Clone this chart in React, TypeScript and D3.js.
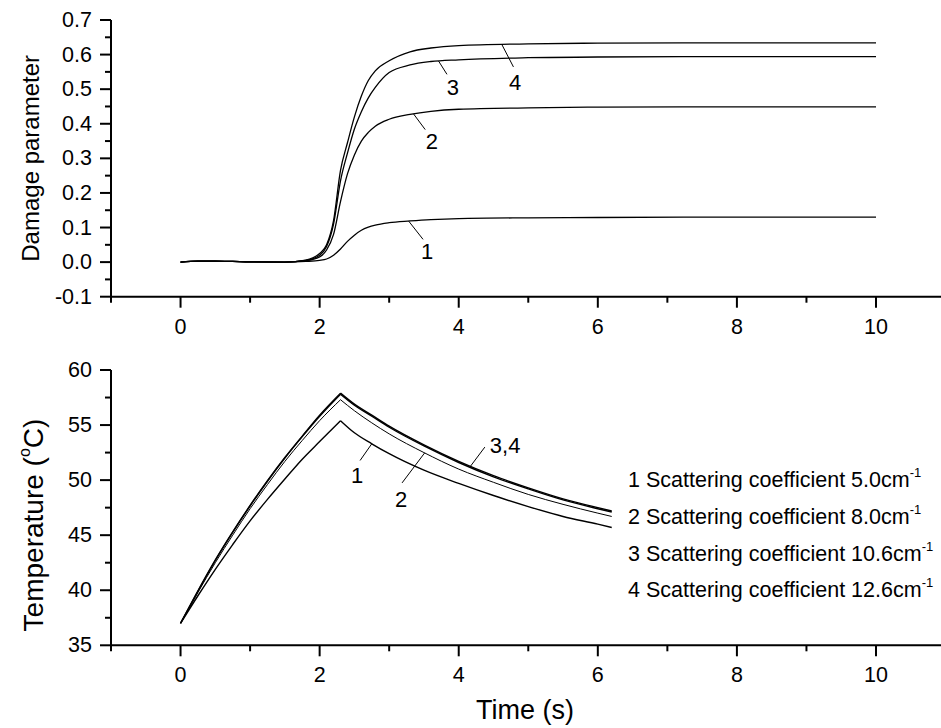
import React from "react";
import * as d3 from "d3";

// ---------- data ----------
const timeTop = [0, 0.25, 0.5, 0.75, 1.0, 1.5, 1.8, 2.0, 2.1, 2.2, 2.3, 2.4, 2.5, 2.6, 2.7, 2.8, 3.0, 3.3, 3.6, 4.0, 5.0, 6.0, 8.0, 10.0];
const damage1 = [0, 0.003, 0.003, 0.002, 0.0005, 0.0, 0.002, 0.005, 0.009, 0.02, 0.038, 0.06, 0.078, 0.092, 0.101, 0.107, 0.114, 0.119, 0.123, 0.126, 0.128, 0.129, 0.13, 0.13];
const damage2 = [0, 0.003, 0.003, 0.002, 0.0005, 0.0, 0.004, 0.015, 0.035, 0.08, 0.175, 0.255, 0.31, 0.35, 0.375, 0.393, 0.413, 0.427, 0.436, 0.442, 0.446, 0.448, 0.449, 0.449];
const damage3 = [0, 0.003, 0.003, 0.002, 0.0005, 0.0, 0.005, 0.02, 0.045, 0.11, 0.235, 0.315, 0.385, 0.435, 0.475, 0.505, 0.548, 0.57, 0.58, 0.585, 0.591, 0.593, 0.594, 0.594];
const damage4 = [0, 0.003, 0.003, 0.002, 0.0005, 0.0, 0.006, 0.025, 0.05, 0.12, 0.265, 0.345, 0.42, 0.48, 0.525, 0.553, 0.582, 0.608, 0.619, 0.626, 0.631, 0.633, 0.634, 0.634];

const timeBottom = [0, 0.25, 0.5, 0.75, 1.0, 1.25, 1.5, 1.75, 2.0, 2.3, 2.5, 2.75, 3.0, 3.5, 4.0, 4.5, 5.0, 5.5, 6.0, 6.2];
const temp1 = [37.0, 39.5, 41.9, 44.15, 46.3, 48.25, 50.1, 51.9, 53.5, 55.4, 54.3, 53.3, 52.4, 50.9, 49.7, 48.6, 47.6, 46.7, 46.0, 45.7];
const temp2 = [37.0, 39.8, 42.5, 45.0, 47.4, 49.6, 51.7, 53.6, 55.4, 57.3, 56.3, 55.2, 54.2, 52.5, 51.0, 49.8, 48.7, 47.8, 47.0, 46.7];
const temp3 = [37.0, 39.9, 42.7, 45.25, 47.65, 49.9, 52.0, 53.95, 55.8, 57.8, 56.8, 55.8, 54.8, 53.1, 51.6, 50.3, 49.2, 48.2, 47.4, 47.1];
const temp4 = [37.0, 39.95, 42.75, 45.3, 47.7, 49.95, 52.05, 54.0, 55.9, 57.9, 56.9, 55.9, 54.9, 53.2, 51.7, 50.4, 49.3, 48.3, 47.5, 47.2];
const heatingEnd = 2.3;

const xTicksMajor = [0, 2, 4, 6, 8, 10];
const xTicksMinor = [-1, 1, 3, 5, 7, 9];
const damageTicks = [-0.1, 0.0, 0.1, 0.2, 0.3, 0.4, 0.5, 0.6, 0.7];
const damageMinor = [-0.05, 0.05, 0.15, 0.25, 0.35, 0.45, 0.55, 0.65];
const tempTicks = [35, 40, 45, 50, 55, 60];
const tempMinor = [37.5, 42.5, 47.5, 52.5, 57.5];

const legendNumbers = ["1", "2", "3", "4"];
const legendValues = ["5.0", "8.0", "10.6", "12.6"];

// curve annotations: label, series index, time of anchor on curve
const topLabels = [
  { label: "4", series: 3, t: 4.62 },
  { label: "3", series: 2, t: 3.71 },
  { label: "2", series: 1, t: 3.35 },
  { label: "1", series: 0, t: 3.28 },
];
const bottomLabels = [
  { label: "1", series: 0, t: 2.75 },
  { label: "2", series: 1, t: 3.51 },
  { label: "3,4", series: 2, t: 4.16 },
];

const FONT = "'Liberation Sans', Arial, Helvetica, sans-serif";

function interp(ts: number[], vs: number[], t: number) {
  const i = Math.max(1, d3.bisectLeft(ts, t));
  const t0 = ts[i - 1], t1 = ts[i];
  const f = (t - t0) / (t1 - t0);
  return vs[i - 1] + f * (vs[i] - vs[i - 1]);
}

export default function App() {
  const W = 941, H = 728;
  const x = d3.scaleLinear().domain([-1, 10]).range([111, 876]);
  const yTop = d3.scaleLinear().domain([-0.1, 0.7]).range([296.7, 20]);
  const yBot = d3.scaleLinear().domain([35, 60]).range([645.3, 370]);
  const axisRight = 941;

  const topSeries = [damage1, damage2, damage3, damage4];
  const botSeries = [temp1, temp2, temp3, temp4];

  const lineTop = d3.line<number>().x((_, i) => x(timeTop[i])).y((d) => yTop(d)).curve(d3.curveMonotoneX);
  const lineBotPts = d3.line<[number, number]>().x((d) => x(d[0])).y((d) => yBot(d[1])).curve(d3.curveMonotoneX);
  const botPath = (s: number[]) => {
    const pts = timeBottom.map((t, i) => [t, s[i]] as [number, number]);
    const rise = pts.filter((p) => p[0] <= heatingEnd);
    const fall = pts.filter((p) => p[0] >= heatingEnd);
    return (lineBotPts(rise) || "") + (lineBotPts(fall) || "");
  };

  const topLabelOffsets = [
    { dx: 11.6, dy: 22.4, tx: 13.3, ty: 37.7 },
    { dx: 8.4, dy: 13.3, tx: 14.4, ty: 26.6 },
    { dx: 11.7, dy: 15.7, tx: 18.4, ty: 27.4 },
    { dx: 14.4, dy: 18.3, tx: 18.4, ty: 30 },
  ];
  const botLabelOffsets = [
    { dx: -11.7, dy: 16.7, tx: -14.7, ty: 31.7, anchor: "middle" },
    { dx: -22.6, dy: 30, tx: -23.6, ty: 47, anchor: "middle" },
    { dx: 15, dy: -20, tx: 20, ty: -21.5, anchor: "start" },
  ];

  const renderXAxis = (y0: number) => (
    <g>
      <line x1={x(-1)} x2={axisRight} y1={y0} y2={y0} stroke="#000" strokeWidth={2} />
      {xTicksMajor.map((t) => (
        <g key={"M" + t}>
          <line x1={x(t)} x2={x(t)} y1={y0} y2={y0 + 11} stroke="#000" strokeWidth={2} />
          <text x={x(t)} y={y0 + 30} textAnchor="middle" dominantBaseline="central" fontSize={21.5}>
            {t}
          </text>
        </g>
      ))}
      {xTicksMinor.map((t) => (
        <line key={"m" + t} x1={x(t)} x2={x(t)} y1={y0} y2={y0 + 6} stroke="#000" strokeWidth={2} />
      ))}
    </g>
  );

  return (
    <svg width={W} height={H} style={{ position: "absolute", left: 0, top: 0, background: "#fff" }} fontFamily={FONT}>
      <rect width={W} height={H} fill="#fff" />
      {/* ---------- top panel ---------- */}
      <g>
        <line x1={x(-1)} x2={x(-1)} y1={yTop(0.7)} y2={yTop(-0.1)} stroke="#000" strokeWidth={2} />
        {damageTicks.map((v) => (
          <g key={"dt" + v}>
            <line x1={x(-1) - 11} x2={x(-1)} y1={yTop(v)} y2={yTop(v)} stroke="#000" strokeWidth={2} />
            <text x={x(-1) - 19} y={yTop(v)} textAnchor="end" dominantBaseline="central" fontSize={21.5}>
              {v.toFixed(1)}
            </text>
          </g>
        ))}
        {damageMinor.map((v) => (
          <line key={"dm" + v} x1={x(-1) - 6} x2={x(-1)} y1={yTop(v)} y2={yTop(v)} stroke="#000" strokeWidth={2} />
        ))}
        {renderXAxis(yTop(-0.1))}
        <text transform={`translate(30,${(yTop(0.7) + yTop(-0.1)) / 2}) rotate(-90)`} textAnchor="middle" dominantBaseline="central" fontSize={24}>
          Damage parameter
        </text>
        {topSeries.map((s, i) => (
          <path key={"tp" + i} d={lineTop(s) || ""} fill="none" stroke="#000" strokeWidth={1.3} />
        ))}
        {topLabels.map((a, i) => {
          const px = x(a.t);
          const py = yTop(interp(timeTop, topSeries[a.series], a.t));
          const o = topLabelOffsets[i];
          return (
            <g key={"tl" + i}>
              <line x1={px} y1={py} x2={px + o.dx} y2={py + o.dy} stroke="#000" strokeWidth={1} />
              <text x={px + o.tx} y={py + o.ty} textAnchor="middle" dominantBaseline="central" fontSize={22}>
                {a.label}
              </text>
            </g>
          );
        })}
      </g>

      {/* ---------- bottom panel ---------- */}
      <g>
        <line x1={x(-1)} x2={x(-1)} y1={yBot(60)} y2={yBot(35)} stroke="#000" strokeWidth={2} />
        {tempTicks.map((v) => (
          <g key={"tt" + v}>
            <line x1={x(-1) - 11} x2={x(-1)} y1={yBot(v)} y2={yBot(v)} stroke="#000" strokeWidth={2} />
            <text x={x(-1) - 19} y={yBot(v)} textAnchor="end" dominantBaseline="central" fontSize={21.5}>
              {v}
            </text>
          </g>
        ))}
        {tempMinor.map((v) => (
          <line key={"tm" + v} x1={x(-1) - 6} x2={x(-1)} y1={yBot(v)} y2={yBot(v)} stroke="#000" strokeWidth={2} />
        ))}
        {renderXAxis(yBot(35))}
        <text transform={`translate(33,525) rotate(-90)`} textAnchor="middle" dominantBaseline="central" fontSize={28}>
          Temperature (<tspan baselineShift="super" fontSize={16}>o</tspan>C)
        </text>
        <text x={525} y={710} textAnchor="middle" dominantBaseline="central" fontSize={27}>
          Time (s)
        </text>
        {botSeries.map((s, i) => (
          <path key={"bp" + i} d={botPath(s)} fill="none" stroke="#000" strokeWidth={i === 1 ? 1 : 1.4} />
        ))}
        {bottomLabels.map((a, i) => {
          const px = x(a.t);
          const py = yBot(interp(timeBottom, botSeries[a.series], a.t));
          const o = botLabelOffsets[i];
          return (
            <g key={"bl" + i}>
              <line x1={px} y1={py} x2={px + o.dx} y2={py + o.dy} stroke="#000" strokeWidth={1} />
              <text x={px + o.tx} y={py + o.ty} textAnchor={o.anchor as any} dominantBaseline="central" fontSize={22}>
                {a.label}
              </text>
            </g>
          );
        })}
        {legendNumbers.map((n, i) => (
          <text key={"lg" + i} x={628} y={yBot(50) + i * 36.7} dominantBaseline="central" fontSize={21.5}>
            {n} Scattering coefficient {legendValues[i]}cm
            <tspan baselineShift="super" fontSize={13}>-1</tspan>
          </text>
        ))}
      </g>
    </svg>
  );
}
